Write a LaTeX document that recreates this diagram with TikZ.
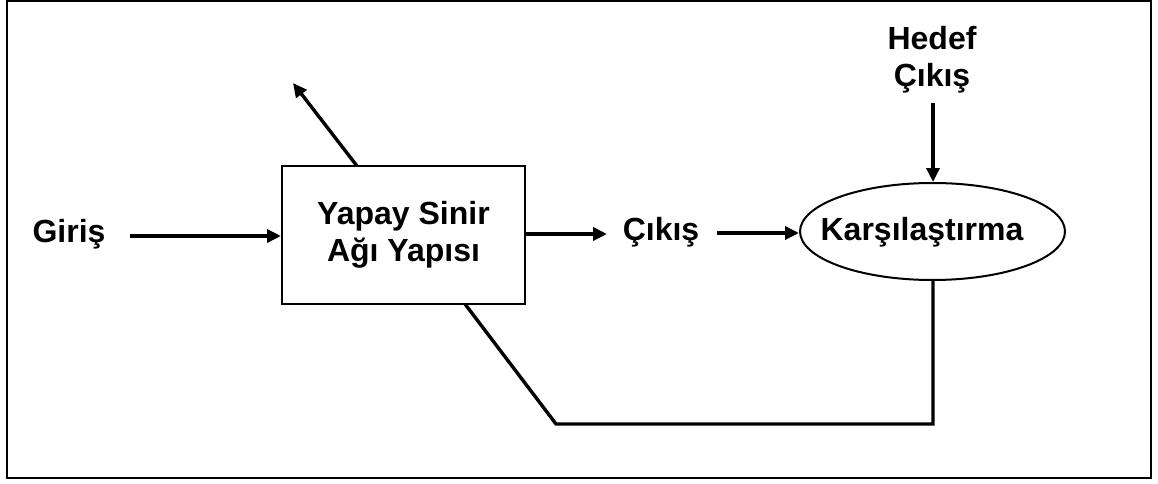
\documentclass[tikz,border=0pt]{standalone}
\usepackage{fontspec}
\setmainfont{Liberation Sans}
\usetikzlibrary{arrows.meta,shapes.geometric}
\begin{document}
\begin{tikzpicture}[x=1pt,y=-1pt,
  lbl/.style={font=\bfseries\fontsize{32}{37}\selectfont, inner sep=0pt},
  conn/.style={line width=3.4pt, -{Triangle[length=14pt,width=13pt]}},
  wire/.style={line width=3.4pt},
  frame/.style={draw, line width=2pt}]
  \useasboundingbox (0,0) rectangle (1158,484);
  \draw[frame] (7,1) rectangle (1151,478);

  % blocks
  \node[frame, rectangle, minimum width=243pt, minimum height=138pt, inner sep=0pt,
        lbl, align=center] (ysa) at (403.5,235) {Yapay Sinir\\Ağı Yapısı};
  \node[frame, ellipse, minimum width=265pt, minimum height=97pt, inner sep=0pt] (cmp) at (932.5,231.5) {};
  \node[lbl, anchor=base] (cmpt) at (922,240) {Karşılaştırma};

  % labels
  \node[lbl, anchor=base] (in) at (69,242) {Giriş};
  \node[lbl, anchor=base] (out) at (661,240) {Çıkış};
  \node[lbl, align=center] (tgt) at (932,60) {Hedef\\Çıkış};

  % connector end points
  \coordinate (inE) at (130,236);
  \coordinate (outW) at (607,234);
  \coordinate (outE) at (717,233);
  \coordinate (tgtS) at (933,103);
  \coordinate (upS) at (357,166);
  \coordinate (upE) at (293,83);
  \coordinate (fbR) at (933,424);
  \coordinate (fbL) at (556,424);
  \coordinate (fbT) at (465,304);

  % connectors
  \draw[conn] (inE) -- (ysa.west |- inE);
  \draw[conn] (ysa.east |- outW) -- (outW);
  \draw[conn] (outE) -- (cmp.west |- outE);
  \draw[conn] (tgtS) -- (cmp.north -| tgtS);
  \draw[conn] (upS) -- (upE);
  \draw[wire, line join=miter] (cmp.south -| fbR) -- (fbR) -- (fbL) -- (fbT);
\end{tikzpicture}
\end{document}
